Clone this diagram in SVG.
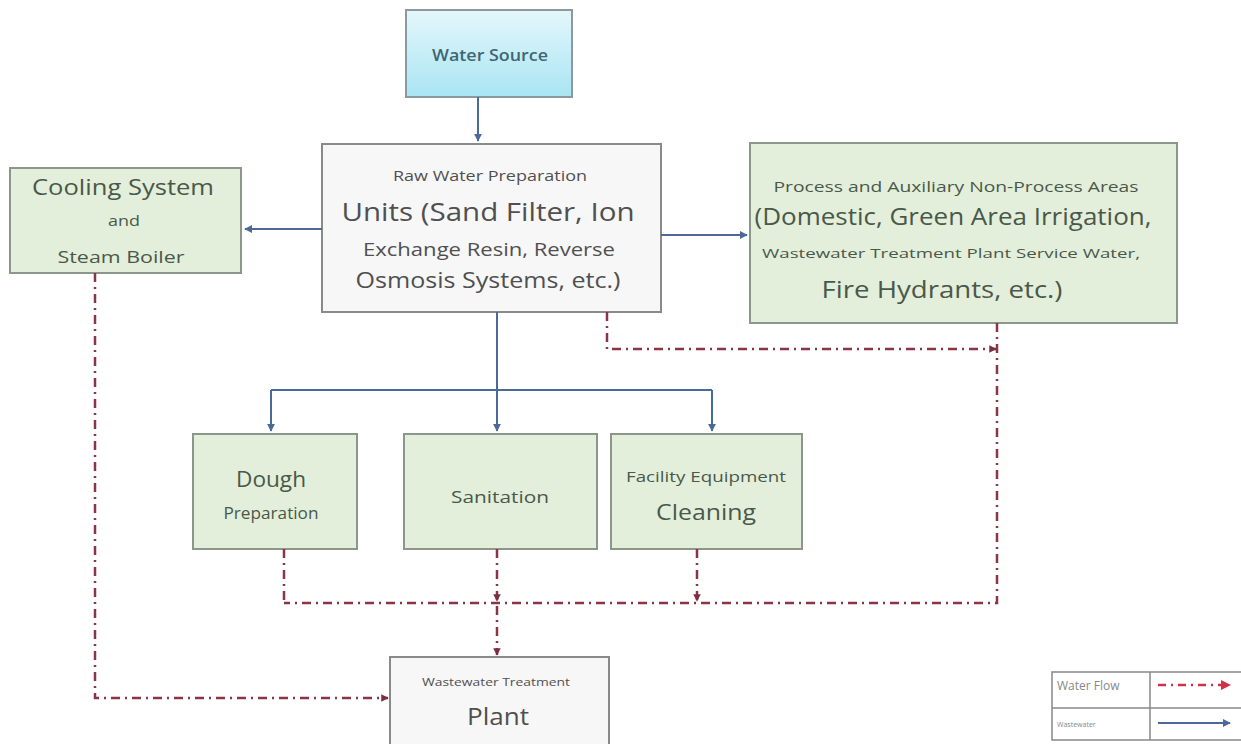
<svg xmlns="http://www.w3.org/2000/svg" width="1241" height="744" viewBox="0 0 1241 744">
<defs>
<linearGradient id="cyan" x1="0" y1="0" x2="0" y2="1">
<stop offset="0" stop-color="#e4f7fb"/>
<stop offset="1" stop-color="#a9e5f3"/>
</linearGradient>
<marker id="ab" viewBox="0 0 10 10" refX="9" refY="5" markerWidth="4" markerHeight="4" orient="auto">
<path d="M0,0 L10,5 L0,10 z" fill="#4a6a9a"/>
</marker>
<marker id="ar" viewBox="0 0 10 10" refX="9" refY="5" markerWidth="3" markerHeight="3" orient="auto">
<path d="M0,0 L10,5 L0,10 z" fill="#7a2f40"/>
</marker>
<marker id="arl" viewBox="0 0 10 10" refX="9" refY="5" markerWidth="4" markerHeight="4" orient="auto">
<path d="M0,0 L10,5 L0,10 z" fill="#d0304a"/>
</marker>
</defs>
<style>
text{font-family:"Open Sans","Liberation Sans",sans-serif;text-anchor:middle}
.g rect{fill:#e3efda;stroke:#8c978c;stroke-width:2}
.g text{fill:#4a584a}
.w rect{fill:#f7f7f7;stroke:#8a8a8a;stroke-width:2}
.w text{fill:#505050}
.blue{fill:none;stroke:#4a6a9a;stroke-width:2}
.dd{fill:none;stroke:#8a3446;stroke-width:2.5;stroke-dasharray:9 5 2 5}
</style>
<rect width="1241" height="744" fill="#fff"/>

<g id="water-source">
<rect x="406" y="10" width="166" height="87" fill="url(#cyan)" stroke="#8a9a9e" stroke-width="2"/>
<text x="490" y="61" font-size="17" font-weight="600" fill="#3f6675" textLength="116" lengthAdjust="spacingAndGlyphs">Water Source</text>
</g>

<g id="raw-water" class="w">
<rect x="322" y="144" width="339" height="168"/>
<text x="490" y="181" font-size="14" fill="#666" textLength="194" lengthAdjust="spacingAndGlyphs">Raw Water Preparation</text>
<text x="488" y="221" font-size="25" textLength="293" lengthAdjust="spacingAndGlyphs">Units (Sand Filter, Ion</text>
<text x="489" y="256" font-size="18" textLength="252" lengthAdjust="spacingAndGlyphs">Exchange Resin, Reverse</text>
<text x="488" y="288" font-size="21" textLength="265" lengthAdjust="spacingAndGlyphs">Osmosis Systems, etc.)</text>
</g>

<g id="cooling" class="g">
<rect x="10" y="168" width="231" height="105"/>
<text x="123" y="195" font-size="21" textLength="182" lengthAdjust="spacingAndGlyphs">Cooling System</text>
<text x="124" y="226" font-size="14" textLength="32" lengthAdjust="spacingAndGlyphs">and</text>
<text x="121" y="263" font-size="17" textLength="127" lengthAdjust="spacingAndGlyphs">Steam Boiler</text>
</g>

<g id="process-areas" class="g">
<rect x="750" y="143" width="427" height="180"/>
<text x="956" y="192" font-size="14" textLength="365" lengthAdjust="spacingAndGlyphs">Process and Auxiliary Non-Process Areas</text>
<text x="953" y="225" font-size="23" textLength="397" lengthAdjust="spacingAndGlyphs">(Domestic, Green Area Irrigation,</text>
<text x="951" y="258" font-size="13.5" textLength="378" lengthAdjust="spacingAndGlyphs">Wastewater Treatment Plant Service Water,</text>
<text x="942" y="298" font-size="23" textLength="241" lengthAdjust="spacingAndGlyphs">Fire Hydrants, etc.)</text>
</g>

<g id="dough" class="g">
<rect x="193" y="434" width="164" height="115"/>
<text x="271" y="487" font-size="21" textLength="70" lengthAdjust="spacingAndGlyphs">Dough</text>
<text x="271" y="519" font-size="17" textLength="95" lengthAdjust="spacingAndGlyphs">Preparation</text>
</g>

<g id="sanitation" class="g">
<rect x="404" y="434" width="193" height="115"/>
<text x="500" y="503" font-size="17" textLength="98" lengthAdjust="spacingAndGlyphs">Sanitation</text>
</g>

<g id="facility" class="g">
<rect x="611" y="434" width="191" height="115"/>
<text x="706" y="482" font-size="14" textLength="160" lengthAdjust="spacingAndGlyphs">Facility Equipment</text>
<text x="706" y="520" font-size="21" textLength="100" lengthAdjust="spacingAndGlyphs">Cleaning</text>
</g>

<g id="wwtp" class="w">
<rect x="390" y="657" width="219" height="95" fill="#f0f0f0"/>
<text x="496" y="686" font-size="11" fill="#666" textLength="148" lengthAdjust="spacingAndGlyphs">Wastewater Treatment</text>
<text x="498" y="725" font-size="24" textLength="62" lengthAdjust="spacingAndGlyphs">Plant</text>
</g>

<g id="connectors">
<path class="blue" d="M478,97 V141" marker-end="url(#ab)"/>
<path class="blue" d="M322,229 H245" marker-end="url(#ab)"/>
<path class="blue" d="M661,235 H747" marker-end="url(#ab)"/>
<path class="blue" d="M497,312 V390"/>
<path class="blue" d="M271,390 H712"/>
<path class="blue" d="M271,390 V431" marker-end="url(#ab)"/>
<path class="blue" d="M497,390 V431" marker-end="url(#ab)"/>
<path class="blue" d="M712,390 V431" marker-end="url(#ab)"/>

<path class="dd" d="M607,312 V349 H996" marker-end="url(#ar)"/>
<path class="dd" d="M997,323 V603 H284"/>
<path class="dd" d="M284,549 V603"/>
<path class="dd" d="M497,549 V601" marker-end="url(#ar)"/>
<path class="dd" d="M697,549 V601" marker-end="url(#ar)"/>
<path class="dd" d="M497,606 V655" marker-end="url(#ar)"/>
<path class="dd" d="M95,273 V698 H388" marker-end="url(#ar)"/>
</g>

<g id="legend">
<rect x="1052" y="672" width="195" height="68" fill="#fff" stroke="#888" stroke-width="1.5"/>
<line x1="1150" y1="672" x2="1150" y2="740" stroke="#888" stroke-width="1.5"/>
<line x1="1052" y1="708" x2="1247" y2="708" stroke="#888" stroke-width="1.5"/>
<text x="1057" y="690" font-size="12" fill="#888" style="text-anchor:start">Water Flow</text>
<text x="1057" y="727" font-size="7" fill="#888" style="text-anchor:start">Wastewater</text>
<path d="M1158,685 H1230" stroke="#d0304a" stroke-width="2.5" stroke-dasharray="8 5 2 5" fill="none" marker-end="url(#arl)"/>
<path d="M1158,723 H1230" stroke="#4a6a9a" stroke-width="2" fill="none" marker-end="url(#ab)"/>
</g>
</svg>
